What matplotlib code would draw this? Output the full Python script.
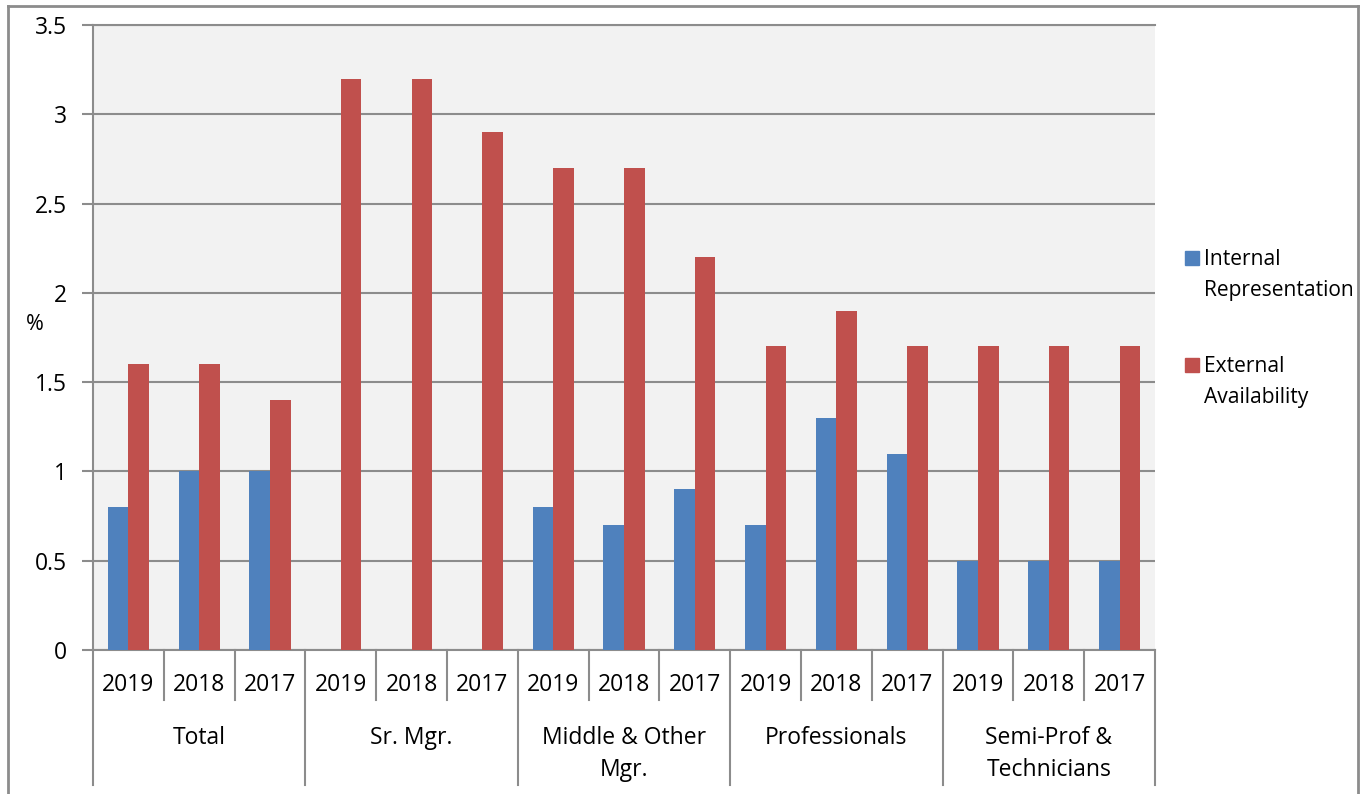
import matplotlib
matplotlib.use("Agg")
import matplotlib.pyplot as plt
from matplotlib.lines import Line2D
from matplotlib.patches import Rectangle
from matplotlib.transforms import blended_transform_factory
import numpy as np

groups = ["Total", "Sr. Mgr.", "Middle & Other\nMgr.", "Professionals", "Semi-Prof &\nTechnicians"]
years = ["2019", "2018", "2017"]
internal = [0.8, 1.0, 1.0, 0, 0, 0, 0.8, 0.7, 0.9, 0.7, 1.3, 1.1, 0.5, 0.5, 0.5]
external = [1.6, 1.6, 1.4, 3.2, 3.2, 2.9, 2.7, 2.7, 2.2, 1.7, 1.9, 1.7, 1.7, 1.7, 1.7]
yticks = [0, 0.5, 1, 1.5, 2, 2.5, 3, 3.5]
ytick_labels = ["0", "0.5", "1", "1.5", "2", "2.5", "3", "3.5"]
series_labels = ["Internal\nRepresentation", "External\nAvailability"]

BLUE = "#4F81BD"
RED = "#C0504D"
GRAY = "#8C8C8C"
FONT = "Open Sans"
FS = 16.5

W, H = 1367, 794
fig = plt.figure(figsize=(W / 100, H / 100), dpi=100)
plt.rcParams["font.family"] = [FONT, "DejaVu Sans"]

L, R, T, B = 93, 1155, 25, 650
ax = fig.add_axes([L / W, 1 - B / H, (R - L) / W, (B - T) / H])
ax.set_facecolor("#F2F2F2")

n = len(internal)
x = np.arange(n)
bw = 0.29
ax.bar(x - bw / 2, internal, width=bw, color=BLUE, zorder=3)
ax.bar(x + bw / 2, external, width=bw, color=RED, zorder=3)

ax.set_xlim(-0.5, n - 0.5)
ax.set_ylim(0, 3.5)
ax.set_yticks(yticks)
ax.set_yticklabels(ytick_labels, fontsize=FS)
ax.tick_params(axis="y", length=8, width=1.5, color=GRAY, pad=11)
ax.set_xticks([])
ax.yaxis.grid(True, color=GRAY, linewidth=1.5, zorder=0)
ax.set_axisbelow(True)
for s in ["left", "bottom", "top"]:
    ax.spines[s].set_color(GRAY)
    ax.spines[s].set_linewidth(1.5)
ax.spines["right"].set_visible(False)

# hierarchical category axis
tr = blended_transform_factory(ax.transData, ax.transAxes)
def ay(py):
    return (B - py) / (B - T)

for i in range(n + 1):
    xb = i - 0.5
    if i % 3 == 0:
        y_end = ay(785)
    else:
        y_end = ay(700)
    ax.add_line(Line2D([xb, xb], [0, y_end], transform=tr, color=GRAY,
                       linewidth=1.5, clip_on=False))
for i in range(n):
    ax.text(i, ay(685), years[i % 3], transform=tr, ha="center", va="center",
            fontsize=FS, clip_on=False)
for g, name in enumerate(groups):
    ax.text(3 * g + 1, ay(726), name, transform=tr, ha="center", va="top",
            fontsize=FS, linespacing=1.45, clip_on=False)

# y label
fig.text(35 / W, 1 - 324 / H, "%", ha="center", va="center", fontsize=FS - 1)

# legend
for k, (lab, col) in enumerate(zip(series_labels, [BLUE, RED])):
    top = 251 + k * 107
    fig.add_artist(Rectangle((1185 / W, 1 - (top + 14) / H), 14 / W, 14 / H,
                             transform=fig.transFigure, color=col))
    fig.text(1204 / W, 1 - (top - 2) / H, lab, ha="left", va="top",
             fontsize=FS - 1.4, linespacing=1.6)

# outer frame
fx0, fx1, fy0 = 8 / W, 1358 / W, 1 - 6 / H
for xs, ys in [([fx0, fx1], [fy0, fy0]), ([fx0, fx0], [fy0, 0]), ([fx1, fx1], [fy0, 0])]:
    fig.add_artist(Line2D(xs, ys, transform=fig.transFigure, color=GRAY, linewidth=2))

fig.savefig("out.png", dpi=100)
